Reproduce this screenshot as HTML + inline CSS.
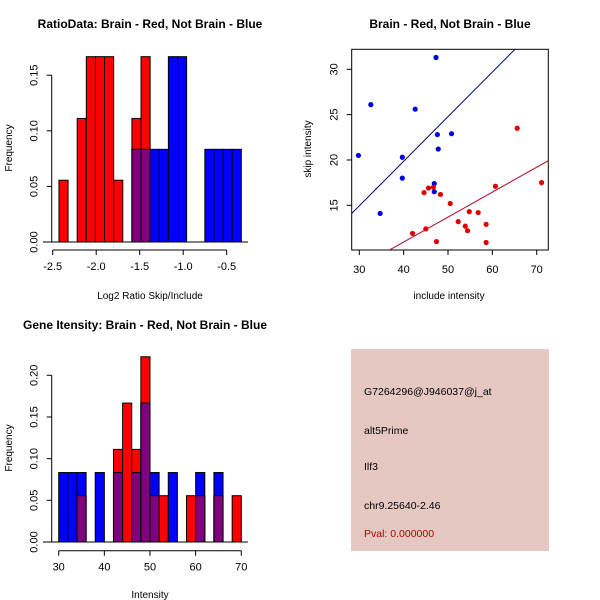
<!DOCTYPE html>
<html><head><meta charset="utf-8"><style>
html,body{margin:0;padding:0;background:#fff}
svg{display:block;font-family:"Liberation Sans",sans-serif}
</style></head><body>
<svg id="c" width="600" height="600" viewBox="0 0 600 600"></svg>
<script>
// Panel 1: ratio histogram
const ratioBreakStart = -2.428, ratioBinWidth = 0.1048;
const ratioRed = [1/18,0,2/18,3/18,3/18,3/18,1/18,0,2/18,3/18,0,0,0,0,0,0,0,0,0,0];
const ratioBlue = [0,0,0,0,0,0,0,0,1/12,1/12,1/12,1/12,2/12,2/12,0,0,1/12,1/12,1/12,1/12];
const ratioXTicks = [-2.5,-2.0,-1.5,-1.0,-0.5];
const ratioXLabels = ["-2.5","-2.0","-1.5","-1.0","-0.5"];
const ratioYTicks = [0,0.05,0.10,0.15];
const ratioYLabels = ["0.00","0.05","0.10","0.15"];
// Panel 2: scatter
const blueInclude = [47.3,32.6,42.6,47.6,50.8,47.8,29.8,39.7,39.7,46.9,46.9,34.7];
const blueSkip = [31.3,26.1,25.6,22.8,22.9,21.2,20.5,20.3,18.0,17.4,16.5,14.1];
const redInclude = [65.6,71.1,60.7,45.6,46.7,44.6,48.3,50.5,54.8,56.8,52.3,58.6,53.9,54.4,45.0,42.0,47.4,58.6];
const redSkip = [23.5,17.5,17.1,16.9,17.0,16.4,16.2,15.2,14.3,14.2,13.2,12.9,12.7,12.2,12.4,11.9,11.0,10.9];
const blueFit = [0.18,0.492];
const redFit = [-0.05,0.275];
const scatXTicks = [30,40,50,60,70];
const scatYTicks = [15,20,25,30];
// Panel 3: intensity histogram
const intBreakStart = 30, intBinWidth = 2;
const intRed = [0,0,1/18,0,0,0,2/18,3/18,2/18,4/18,1/18,1/18,0,0,1/18,1/18,0,1/18,0,1/18];
const intBlue = [1/12,1/12,1/12,0,1/12,0,1/12,0,1/12,2/12,1/12,0,1/12,0,0,1/12,0,1/12,0,0];
const intXTicks = [30,40,50,60,70];
const intYTicks = [0,0.05,0.10,0.15,0.20];
const intYLabels = ["0.00","0.05","0.10","0.15","0.20"];

const svg = document.getElementById('c');
const NS = 'http://www.w3.org/2000/svg';
function mk(tag, attrs, name, parent){
  const e = document.createElementNS(NS, tag);
  for (const k in attrs) e.setAttribute(k, attrs[k]);
  
  
  (parent||svg).appendChild(e);
  return e;
}
function txt(x,y,s,name,opt){
  opt = opt||{};
  const t = mk('text',{x:x,y:y,'font-size':opt.size||11,'text-anchor':opt.anchor||'middle',fill:opt.fill||'#000','font-weight':opt.bold?'bold':'normal'},name);
  if (opt.rot) t.setAttribute('transform','rotate(-90 '+x+' '+y+')');
  t.textContent = s;
  return t;
}
function line(x1,y1,x2,y2,name,stroke){
  return mk('line',{x1:x1,y1:y1,x2:x2,y2:y2,stroke:stroke||'#000','stroke-width':1},name);
}

function histogram(cfg){
  const {sx, sy, start, w, red, blue, xTicks, xLabels, yTicks, yLabels, axisX, tickY, base, prefix} = cfg;
  for (let i=0;i<red.length;i++){
    const x0 = sx(start+i*w), x1 = sx(start+(i+1)*w);
    const r = red[i], b = blue[i], m = Math.min(r,b);
    if (r>0){ mk('rect',{x:x0,y:sy(r),width:x1-x0,height:sy(0)-sy(r),fill:'#ff0000',stroke:'#000','stroke-width':1},prefix+'-red-bar-'+i); }
    if (b>0){ mk('rect',{x:x0,y:sy(b),width:x1-x0,height:sy(0)-sy(b),fill:'#0000ff',stroke:'#000','stroke-width':1},prefix+'-blue-bar-'+i); }
    if (m>0){ mk('rect',{x:x0,y:sy(m),width:x1-x0,height:sy(0)-sy(m),fill:'#800080',stroke:'#000','stroke-width':1},prefix+'-overlap-bar-'+i); }
  }
  line(base[0],sy(0),base[1],sy(0),prefix+'-baseline');
  // x axis
  line(sx(xTicks[0]),tickY,sx(xTicks[xTicks.length-1]),tickY,prefix+'-x-axis');
  xTicks.forEach((v,i)=>{ line(sx(v),tickY,sx(v),tickY+5,prefix+'-x-tick'); txt(sx(v),tickY+20,xLabels[i],prefix+'-x-tick-label'); });
  // y axis
  line(axisX,sy(yTicks[0]),axisX,sy(yTicks[yTicks.length-1]),prefix+'-y-axis');
  yTicks.forEach((v,i)=>{ line(axisX-5,sy(v),axisX,sy(v),prefix+'-y-tick'); txt(axisX-14,sy(v),yLabels[i],prefix+'-y-tick-label',{rot:true}); });
}

// Panel 1
histogram({
  sx: v => 52.7 + (v+2.5)*87,
  sy: v => 242 - v*1112,
  start: ratioBreakStart, w: ratioBinWidth, red: ratioRed, blue: ratioBlue,
  xTicks: ratioXTicks, xLabels: ratioXLabels, yTicks: ratioYTicks, yLabels: ratioYLabels,
  axisX: 51.7, tickY: 250, base:[43,248], prefix:'ratio'
});
txt(150,28,'RatioData: Brain - Red, Not Brain - Blue','ratio-title',{bold:true,size:12});
txt(150,299,'Log2 Ratio Skip/Include','ratio-x-title',{size:10});
txt(12,148,'Frequency','ratio-y-title',{rot:true,size:10});

// Panel 2
const px = v => 359.3 + (v-30)*4.435;
const py = v => 69.3 + (30-v)*9.067;
const clip = mk('clipPath',{id:'scatclip'},'scatter-clip');
mk('rect',{x:351.7,y:49.3,width:196.6,height:200.7},'scatter-clip-rect',clip);
mk('rect',{x:351.7,y:49.3,width:196.6,height:200.7,fill:'none',stroke:'#000','stroke-width':1},'scatter-plot-box');
const g = mk('g',{'clip-path':'url(#scatclip)'},'scatter-plot-area');
[[blueFit,'#00007a','blue-fit-line'],[redFit,'#b00020','red-fit-line']].forEach(([f,c,n])=>{
  mk('line',{x1:px(20),y1:py(f[0]+f[1]*20),x2:px(80),y2:py(f[0]+f[1]*80),stroke:c,'stroke-width':1},n,g);
});
blueInclude.forEach((v,i)=>mk('circle',{cx:px(v),cy:py(blueSkip[i]),r:2.6,fill:'#0000dd'},'blue-point',g));
redInclude.forEach((v,i)=>mk('circle',{cx:px(v),cy:py(redSkip[i]),r:2.6,fill:'#dd0000'},'red-point',g));
scatXTicks.forEach(v=>{ line(px(v),250,px(v),255,'scatter-x-tick'); txt(px(v),273,String(v),'scatter-x-tick-label'); });
scatYTicks.forEach(v=>{ line(346.7,py(v),351.7,py(v),'scatter-y-tick'); txt(337.7,py(v),String(v),'scatter-y-tick-label',{rot:true}); });
txt(450,28,'Brain - Red, Not Brain - Blue','scatter-title',{bold:true,size:12});
txt(449,299,'include intensity','scatter-x-title',{size:10});
txt(311,149,'skip intensity','scatter-y-title',{rot:true,size:10});

// Panel 3
histogram({
  sx: v => 58.7 + (v-30)*4.565,
  sy: v => 542 - v*833.5,
  start: intBreakStart, w: intBinWidth, red: intRed, blue: intBlue,
  xTicks: intXTicks, xLabels: intXTicks.map(String), yTicks: intYTicks, yLabels: intYLabels,
  axisX: 51.7, tickY: 550.7, base:[43,248], prefix:'intensity'
});
txt(145,329,'Gene Itensity: Brain - Red, Not Brain - Blue','intensity-title',{bold:true,size:12});
txt(150,598,'Intensity','intensity-x-title',{size:10});
txt(12,448,'Frequency','intensity-y-title',{rot:true,size:10});

// Panel 4: info box
mk('rect',{x:351,y:349,width:198,height:202,fill:'#e6c8c2'},'info-box');
txt(364,395,'G7264296@J946037@j_at','info-probe-id',{anchor:'start',size:10.5});
txt(364,434,'alt5Prime','info-event-type',{anchor:'start',size:10.5});
txt(364,470,'Ilf3','info-gene-name',{anchor:'start',size:10.5});
txt(364,509,'chr9.25640-2.46','info-location',{anchor:'start',size:10.5});
txt(364,537,'Pval: 0.000000','info-pval',{anchor:'start',size:10.5,fill:'#b00000'});
</script>
</body></html>
